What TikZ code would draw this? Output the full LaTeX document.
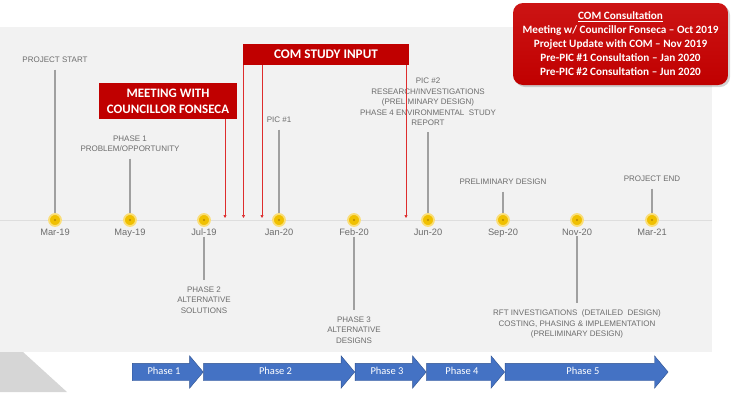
\documentclass[tikz,border=0pt]{standalone}
\usepackage{fontspec}
\setmainfont{Carlito}
\newfontfamily\lblfont{Liberation Sans}
\usetikzlibrary{positioning,arrows.meta,shapes.arrows,shadows}
\definecolor{panelgray}{RGB}{242,242,242}
\definecolor{cornergray}{RGB}{214,214,214}
\definecolor{axisgray}{RGB}{222,222,222}
\definecolor{comred}{RGB}{192,0,0}
\definecolor{comredtop}{RGB}{204,20,20}
\definecolor{linered}{RGB}{222,45,45}
\definecolor{stemgray}{RGB}{160,160,160}
\definecolor{textgray}{RGB}{108,108,108}
\definecolor{dotgold}{RGB}{240,192,0}
\definecolor{dotglow}{RGB}{250,222,120}
\definecolor{dotcore}{RGB}{185,135,0}
\definecolor{phaseblue}{RGB}{68,114,196}
\definecolor{phaseedge}{RGB}{47,82,143}
\tikzset{
  mdot/.style={circle,fill=dotgold,draw=dotglow,line width=1.8pt,minimum size=12pt,inner sep=0pt,
    path picture={\fill[dotcore] (path picture bounding box.center) circle (1.1pt);}},
  mlab/.style={font=\lblfont\fontsize{8}{10.4}\selectfont,text=textgray,align=center,inner sep=6.5pt},
  dlab/.style={font=\lblfont\fontsize{9.3}{11}\selectfont,text=textgray,inner sep=1pt},
  stem/.style={stemgray,line width=1.3pt},
  redbox/.style={fill=comred,text=white,align=center,inner sep=0pt},
  redline/.style={linered,line width=0.7pt,-{Triangle[length=3pt,width=3pt]}},
  cbox/.style={rounded corners=10pt,top color=comredtop,bottom color=comred,text=white,align=center,
    font=\bfseries\fontsize{11.2}{14}\selectfont,minimum width=215pt,minimum height=82pt,inner sep=0pt,
    drop shadow={opacity=0.35,shadow xshift=2pt,shadow yshift=-2pt}},
  phase/.style={single arrow,fill=phaseblue,draw=phaseedge,line width=0.4pt,text=white,
    font=\fontsize{10.5}{12}\selectfont,single arrow head extend=7.5pt,single arrow tip angle=100,
    text height=7pt,text depth=2pt,inner ysep=4pt,inner xsep=0pt,anchor=west},
}
\begin{document}
\begin{tikzpicture}[x=1pt,y=-1pt]
\useasboundingbox (0,0) rectangle (735,392);
% background panel
\fill[panelgray] (0,27) rectangle (712,352);
\fill[cornergray] (0,352) -- (23,352) -- (67,392) -- (0,392) -- cycle;
% time axis
\coordinate (ax0) at (0,220);
\coordinate (ax1) at (712,220);
\draw[axisgray,line width=0.8pt] (ax0) -- (ax1);
% milestones and dates
\foreach \n/\x/\d in {1/55/Mar-19,2/130/May-19,3/204/Jul-19,4/279/Jan-20,5/354/Feb-20,
    6/428/Jun-20,7/503/Sep-20,8/577/Nov-20,9/652/Mar-21}{
  \node[mdot] (d\n) at (\x,220) {};
  \node[dlab,below=0.5pt of d\n] (t\n) {\d};
}
% milestone labels
\node[mlab] (l1) at (55,60) {PROJECT START};
\node[mlab] (l2) at (130,144) {PHASE 1\\PROBLEM/OPPORTUNITY};
\node[mlab] (l3) at (204,300) {PHASE 2\\ALTERNATIVE\\SOLUTIONS};
\node[mlab] (l4) at (279,120) {PIC \#1};
\node[mlab] (l5) at (354,330) {PHASE 3\\ALTERNATIVE\\DESIGNS};
\node[mlab] (l6) at (428,102) {PIC \#2\\RESEARCH/INVESTIGATIONS\\(PRELIMINARY DESIGN)\\PHASE 4 ENVIRONMENTAL\ \ STUDY\\REPORT};
\node[mlab] (l7) at (503,182) {PRELIMINARY DESIGN};
\node[mlab] (l8) at (577,324) {RFT INVESTIGATIONS\ \ (DETAILED\ \ DESIGN)\\COSTING, PHASING \& IMPLEMENTATION\\(PRELIMINARY DESIGN)};
\node[mlab] (l9) at (652,179) {PROJECT END};
% stems
\foreach \n in {1,2,4,6,7,9}
  \draw[stem] (l\n.south) -- (d\n.north);
\foreach \n in {3,5,8}
  \draw[stem] (t\n.south) -- (l\n.north);
% COM input boxes
\node[redbox,font=\bfseries\fontsize{13.2}{16}\selectfont,minimum width=166pt,minimum height=21pt] (csi) at (326,54.5) {COM STUDY INPUT};
\node[redbox,font=\bfseries\fontsize{12.9}{16}\selectfont,minimum width=138pt,minimum height=36pt] (mtg) at (168,101) {MEETING WITH\\COUNCILLOR FONSECA};
\coordinate (r1) at (225,218);
\coordinate (r2) at (243.5,218);
\coordinate (r3) at (262,218);
\coordinate (r4) at (406,218);
\draw[redline] (mtg.south -| r1) -- (r1);
\foreach \n in {2,3,4}
  \draw[redline] (csi.south -| r\n) -- (r\n);
% consultation summary
\node[cbox] (cons) at (620.5,44) {\underline{COM Consultation}\\Meeting w/ Councillor Fonseca – Oct 2019\\Project Update with COM – Nov 2019\\Pre-PIC \#1 Consultation – Jan 2020\\Pre-PIC \#2 Consultation – Jun 2020};
% phases
\node[phase,minimum height=71pt] (p1) at (132,372) {Phase 1};
\node[phase,minimum height=151pt,right=0pt of p1] (p2) {Phase 2};
\node[phase,minimum height=71pt,right=0pt of p2] (p3) {Phase 3};
\node[phase,minimum height=78pt,right=0pt of p3] (p4) {Phase 4};
\node[phase,minimum height=163pt,right=0pt of p4] (p5) {Phase 5};
\end{tikzpicture}
\end{document}
